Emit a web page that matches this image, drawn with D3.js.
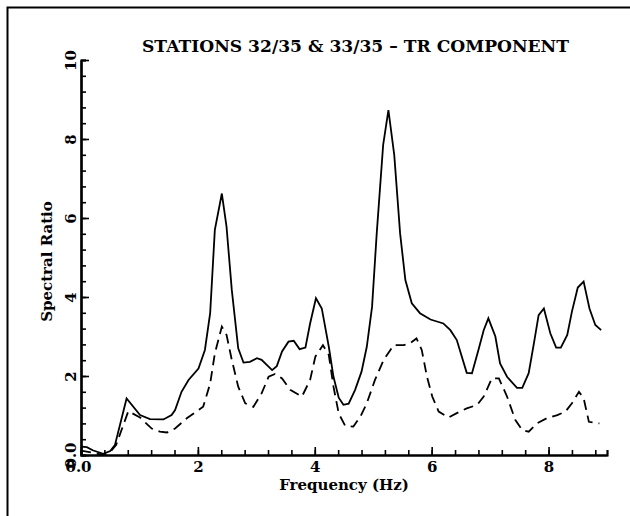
<!DOCTYPE html>
<html>
<head>
<meta charset="utf-8">
<script src="https://cdn.jsdelivr.net/npm/d3@7"></script>
<style>
  body { margin: 0; background: #fff; }
  svg text { font-family: "DejaVu Serif", "Liberation Serif", serif; font-weight: bold; fill: #000; }
</style>
</head>
<body>
<div id="chart"></div>
<script>
// station 32/35 (solid)
var freqSolid = [0.00, 0.10, 0.20, 0.38, 0.50, 0.58, 0.78, 1.01, 1.18, 1.41, 1.55, 1.61, 1.72, 1.84, 2.01, 2.12,
  2.21, 2.29, 2.41, 2.49, 2.58, 2.69, 2.78, 2.89, 3.01, 3.09, 3.27, 3.35, 3.44, 3.55, 3.64, 3.74, 3.84, 3.92,
  4.02, 4.12, 4.24, 4.32, 4.41, 4.49, 4.58, 4.69, 4.80, 4.89, 4.98, 5.06, 5.17, 5.26, 5.36, 5.46, 5.55, 5.66,
  5.80, 5.98, 6.09, 6.20, 6.32, 6.43, 6.60, 6.69, 6.80, 6.89, 6.97, 7.09, 7.17, 7.29, 7.46, 7.55, 7.66, 7.75,
  7.83, 7.92, 8.03, 8.13, 8.21, 8.32, 8.40, 8.50, 8.60, 8.70, 8.80, 8.90];
var ratioSolid = [0.21, 0.20, 0.12, 0.03, 0.10, 0.25, 1.43, 1.01, 0.91, 0.90, 1.01, 1.14, 1.60, 1.90, 2.19, 2.66,
  3.59, 5.70, 6.62, 5.78, 4.18, 2.70, 2.34, 2.36, 2.45, 2.41, 2.15, 2.25, 2.62, 2.87, 2.89, 2.68, 2.72, 3.33,
  3.97, 3.71, 2.74, 1.98, 1.45, 1.27, 1.30, 1.65, 2.11, 2.74, 3.75, 5.61, 7.85, 8.73, 7.59, 5.61, 4.43, 3.84,
  3.59, 3.43, 3.38, 3.33, 3.16, 2.91, 2.08, 2.07, 2.66, 3.16, 3.46, 3.00, 2.32, 1.98, 1.70, 1.70, 2.07, 2.83,
  3.54, 3.71, 3.08, 2.72, 2.72, 3.04, 3.63, 4.24, 4.39, 3.71, 3.29, 3.16];

// station 33/35 (dashed)
var freqDashed = [0.00, 0.20, 0.38, 0.50, 0.60, 0.81, 1.01, 1.21, 1.35, 1.47, 1.61, 1.81, 2.09, 2.21, 2.29, 2.41,
  2.49, 2.58, 2.69, 2.81, 2.95, 3.09, 3.21, 3.32, 3.44, 3.58, 3.78, 3.92, 4.01, 4.14, 4.24, 4.32, 4.41, 4.52,
  4.66, 4.78, 4.89, 5.03, 5.18, 5.35, 5.52, 5.63, 5.74, 5.83, 5.92, 6.01, 6.12, 6.29, 6.43, 6.60, 6.78, 6.89,
  7.03, 7.15, 7.29, 7.43, 7.55, 7.66, 7.80, 7.97, 8.15, 8.29, 8.40, 8.52, 8.60, 8.69, 8.77, 8.87];
var ratioDashed = [0.11, 0.06, 0.00, 0.08, 0.25, 1.11, 0.95, 0.67, 0.59, 0.57, 0.67, 0.93, 1.22, 1.81, 2.57, 3.25,
  3.04, 2.41, 1.73, 1.31, 1.22, 1.56, 1.98, 2.05, 1.94, 1.65, 1.48, 1.90, 2.49, 2.78, 2.53, 1.73, 1.05, 0.74,
  0.72, 0.97, 1.31, 1.90, 2.41, 2.78, 2.78, 2.83, 2.95, 2.66, 1.98, 1.48, 1.10, 0.95, 1.06, 1.18, 1.27, 1.48,
  1.94, 1.94, 1.48, 0.89, 0.63, 0.59, 0.80, 0.93, 1.01, 1.10, 1.31, 1.60, 1.44, 0.84, 0.82, 0.80];

var xMajor = [0, 2, 4, 6, 8];
var yMajor = [0, 2, 4, 6, 8, 10];
var title = "STATIONS 32/35 & 33/35 \u2013 TR COMPONENT";

var margin = {top: 60, right: 23, bottom: 61, left: 81},
    width = 630 - margin.left - margin.right,
    height = 516 - margin.top - margin.bottom;

var root = d3.select("#chart")
  .append("svg")
    .attr("width", 630)
    .attr("height", 516);

// page frame (left and top edges only)
root.append("path")
  .attr("d", "M7.5,516 V7.5 H630")
  .attr("fill", "none")
  .attr("stroke", "#000")
  .attr("stroke-width", 2);

var svg = root.append("g")
  .attr("transform", "translate(" + margin.left + "," + margin.top + ")");

var x = d3.scaleLinear().domain([0, 9]).range([0, width]);
var y = d3.scaleLinear().domain([0, 10]).range([height, 0]);

var xMinor = d3.range(0, 23).map(function(i) { return +(i * 0.4).toFixed(1); });
var yMinor = d3.range(0, 26).map(function(i) { return +(i * 0.4).toFixed(1); });
var fmt = function(d) { return d === 0 ? "0.0" : d; };

// minor ticks, pointing inward
svg.append("g")
  .attr("transform", "translate(0," + height + ")")
  .call(d3.axisBottom(x).tickValues(xMinor).tickSize(-5).tickFormat(""));
svg.append("g")
  .call(d3.axisLeft(y).tickValues(yMinor).tickSize(-5).tickFormat(""));

// major ticks with labels
var xAxis = svg.append("g")
  .attr("transform", "translate(0," + height + ")")
  .call(d3.axisBottom(x).tickValues(xMajor).tickSizeInner(-8).tickSizeOuter(0).tickPadding(6).tickFormat(fmt));
var yAxis = svg.append("g")
  .call(d3.axisLeft(y).tickValues(yMajor).tickSizeInner(-8).tickSizeOuter(0).tickFormat(fmt));

svg.selectAll(".domain").attr("stroke-width", 2.2);
svg.selectAll(".tick line").attr("stroke-width", 1.6);

xAxis.selectAll("text")
  .attr("font-size", 15)
  .attr("dy", "0.71em")
  .attr("y", 6)
  .attr("dx", function(d) { return d === 0 ? -3 : 0; });

yAxis.selectAll("text")
  .attr("font-size", 15)
  .attr("x", 0)
  .attr("dy", 0)
  .attr("text-anchor", "middle")
  .attr("transform", "translate(-5,0) rotate(-90)");

var line = d3.line()
  .x(function(d) { return x(d[0]); })
  .y(function(d) { return y(d[1]); });

svg.append("path")
  .datum(d3.zip(freqDashed, ratioDashed))
  .attr("fill", "none")
  .attr("stroke", "#000")
  .attr("stroke-width", 1.8)
  .attr("stroke-dasharray", "10,6")
  .attr("d", line);

svg.append("path")
  .datum(d3.zip(freqSolid, ratioSolid))
  .attr("fill", "none")
  .attr("stroke", "#000")
  .attr("stroke-width", 1.8)
  .attr("d", line);

// titles
root.append("text")
  .attr("x", 142)
  .attr("y", 52)
  .attr("font-size", 17)
  .attr("textLength", 427)
  .attr("lengthAdjust", "spacingAndGlyphs")
  .text(title);

root.append("text")
  .attr("x", margin.left + width / 2)
  .attr("y", 490)
  .attr("text-anchor", "middle")
  .attr("font-size", 15)
  .text("Frequency (Hz)");

root.append("text")
  .attr("transform", "translate(52," + (margin.top + height / 2 + 4) + ") rotate(-90)")
  .attr("text-anchor", "middle")
  .attr("font-size", 15)
  .text("Spectral Ratio");
</script>
</body>
</html>
